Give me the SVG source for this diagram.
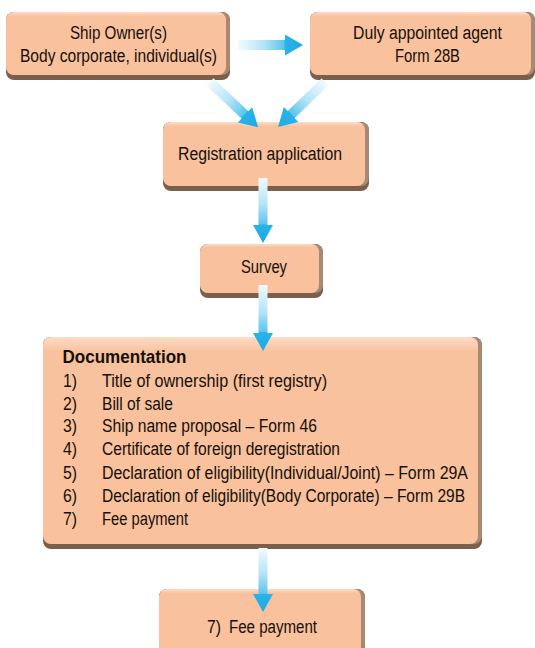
<svg xmlns="http://www.w3.org/2000/svg" width="535" height="648" viewBox="0 0 535 648">
<defs>
<linearGradient id="face" x1="0" y1="0" x2="0" y2="1">
<stop offset="0" stop-color="#FCDCC7"/>
<stop offset="0.07" stop-color="#F9C29E"/>
<stop offset="1" stop-color="#F9C19C"/>
</linearGradient>
<linearGradient id="arr" x1="0" y1="0" x2="1" y2="0">
<stop offset="0" stop-color="#F2FAFE"/>
<stop offset="0.4" stop-color="#B5E4F7"/>
<stop offset="0.71" stop-color="#5CC5EF"/>
<stop offset="0.72" stop-color="#2AB3EA"/>
<stop offset="1" stop-color="#1EA9E5"/>
</linearGradient>
<style>
.sh{fill:#7C5F4B}
.rt{fill:#A88A74}
.fc{fill:url(#face)}
.t{font-family:'Liberation Sans',Arial,sans-serif;font-size:19px;fill:#15100c}
.b{font-weight:bold}
.m{text-anchor:middle}
.a{fill:url(#arr)}
</style>
</defs>

<g id="ship-owner">
<rect class="sh" x="6" y="12" width="224" height="68" rx="8"/>
<rect class="rt" x="6" y="12" width="224" height="63" rx="8"/>
<rect class="fc" x="6" y="12" width="220" height="63" rx="8"/>
<text class="t m" transform="translate(118.5,38.5) scale(0.78,1)" textLength="124.4" lengthAdjust="spacingAndGlyphs">Ship Owner(s)</text>
<text class="t m" transform="translate(118.5,62) scale(0.78,1)" textLength="252.6" lengthAdjust="spacingAndGlyphs">Body corporate, individual(s)</text>
</g>

<g id="agent">
<rect class="sh" x="310" y="12" width="225" height="68" rx="8"/>
<rect class="rt" x="310" y="12" width="225" height="63" rx="8"/>
<rect class="fc" x="310" y="12" width="221" height="63" rx="8"/>
<text class="t m" transform="translate(427.5,38.5) scale(0.78,1)" textLength="191" lengthAdjust="spacingAndGlyphs">Duly appointed agent</text>
<text class="t m" transform="translate(427.5,62) scale(0.78,1)" textLength="83.3" lengthAdjust="spacingAndGlyphs">Form 28B</text>
</g>

<g id="registration">
<rect class="sh" x="163" y="122" width="206" height="69" rx="8"/>
<rect class="rt" x="163" y="122" width="206" height="64" rx="8"/>
<rect class="fc" x="163" y="122" width="202" height="64" rx="8"/>
<text class="t m" transform="translate(260,160) scale(0.78,1)" textLength="210.3" lengthAdjust="spacingAndGlyphs">Registration application</text>
</g>

<g id="survey">
<rect class="sh" x="200" y="244" width="123" height="54" rx="8"/>
<rect class="rt" x="200" y="244" width="123" height="49" rx="8"/>
<rect class="fc" x="200" y="244" width="119" height="49" rx="8"/>
<text class="t m" transform="translate(264,273) scale(0.78,1)" textLength="59" lengthAdjust="spacingAndGlyphs">Survey</text>
</g>

<g id="documentation">
<rect class="sh" x="43" y="337" width="439" height="212" rx="8"/>
<rect class="rt" x="43" y="337" width="439" height="207" rx="8"/>
<rect class="fc" x="43" y="337" width="435" height="207" rx="8"/>
<text class="t b" transform="translate(62.5,363) scale(0.78,1)" textLength="159" lengthAdjust="spacingAndGlyphs">Documentation</text>
<text class="t" transform="translate(63,387) scale(0.78,1)" textLength="18" lengthAdjust="spacingAndGlyphs">1)</text>
<text class="t" transform="translate(102,387) scale(0.78,1)" textLength="288.5" lengthAdjust="spacingAndGlyphs">Title of ownership (first registry)</text>
<text class="t" transform="translate(63,409.5) scale(0.78,1)" textLength="18" lengthAdjust="spacingAndGlyphs">2)</text>
<text class="t" transform="translate(102,409.5) scale(0.78,1)" textLength="91" lengthAdjust="spacingAndGlyphs">Bill of sale</text>
<text class="t" transform="translate(63,432) scale(0.78,1)" textLength="18" lengthAdjust="spacingAndGlyphs">3)</text>
<text class="t" transform="translate(102,432) scale(0.78,1)" textLength="275.6" lengthAdjust="spacingAndGlyphs">Ship name proposal – Form 46</text>
<text class="t" transform="translate(63,455) scale(0.78,1)" textLength="18" lengthAdjust="spacingAndGlyphs">4)</text>
<text class="t" transform="translate(102,455) scale(0.78,1)" textLength="305.1" lengthAdjust="spacingAndGlyphs">Certificate of foreign deregistration</text>
<text class="t" transform="translate(63,478.5) scale(0.78,1)" textLength="18" lengthAdjust="spacingAndGlyphs">5)</text>
<text class="t" transform="translate(102,478.5) scale(0.78,1)" textLength="469.2" lengthAdjust="spacingAndGlyphs">Declaration of eligibility(Individual/Joint) – Form 29A</text>
<text class="t" transform="translate(63,502) scale(0.78,1)" textLength="18" lengthAdjust="spacingAndGlyphs">6)</text>
<text class="t" transform="translate(102,502) scale(0.78,1)" textLength="465.4" lengthAdjust="spacingAndGlyphs">Declaration of eligibility(Body Corporate) – Form 29B</text>
<text class="t" transform="translate(63,525) scale(0.78,1)" textLength="18" lengthAdjust="spacingAndGlyphs">7)</text>
<text class="t" transform="translate(102,525) scale(0.78,1)" textLength="110.3" lengthAdjust="spacingAndGlyphs">Fee payment</text>
</g>

<g id="fee-payment">
<rect class="sh" x="159" y="589" width="206" height="70" rx="8"/>
<rect class="rt" x="159" y="589" width="206" height="65" rx="8"/>
<rect class="fc" x="159" y="589" width="202" height="65" rx="8"/>
<text class="t" transform="translate(207,633) scale(0.78,1)"><tspan x="0" textLength="18" lengthAdjust="spacingAndGlyphs">7)</tspan><tspan x="28.2" textLength="112.8" lengthAdjust="spacingAndGlyphs">Fee payment</tspan></text>
</g>

<g id="connectors">
<path class="a" transform="translate(238,45)" d="M0,-5 H47 V-10.5 L65,0 L47,10.5 V5 H0 Z"/>
<path class="a" transform="translate(210,82) rotate(43.2)" d="M0,-5 H48 V-10.5 L66,0 L48,10.5 V5 H0 Z"/>
<path class="a" transform="translate(325,82) rotate(136.2)" d="M0,-5 H47 V-10.5 L65,0 L47,10.5 V5 H0 Z"/>
<path class="a" transform="translate(263,178) rotate(90)" d="M0,-4.5 H47 V-10 L65,0 L47,10 V4.5 H0 Z"/>
<path class="a" transform="translate(263,285) rotate(90)" d="M0,-4.5 H48 V-10 L66,0 L48,10 V4.5 H0 Z"/>
<path class="a" transform="translate(263,548) rotate(90)" d="M0,-4.5 H46 V-10 L64,0 L46,10 V4.5 H0 Z"/>
</g>
</svg>
